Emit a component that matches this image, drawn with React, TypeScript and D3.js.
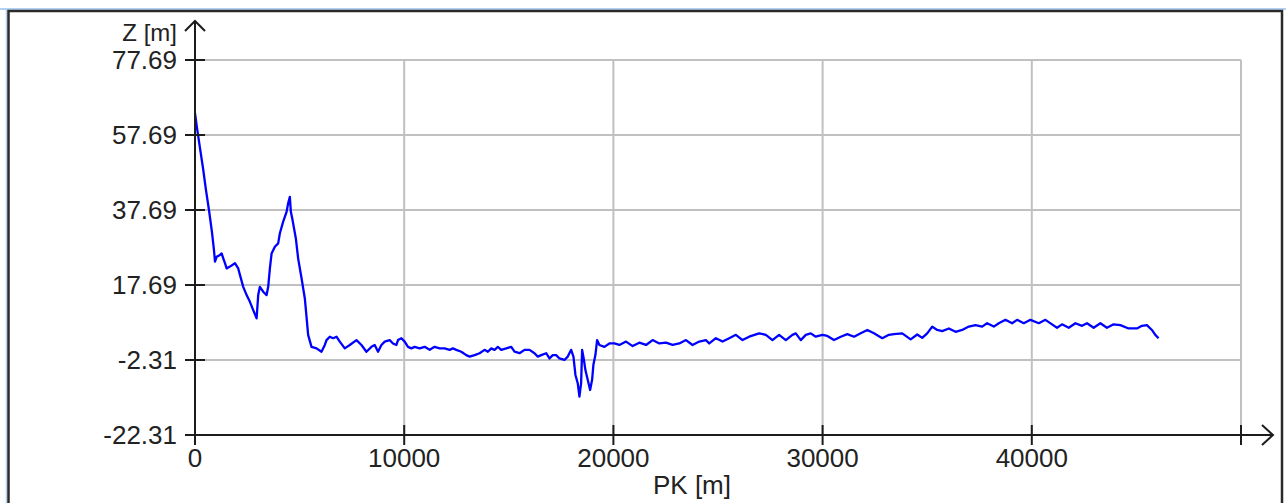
import React from "react";
import * as d3 from "d3";

// profile: chainage PK [m] and elevation Z [m]
const pk = [
  0, 95, 239, 382, 525, 668, 811, 907, 955, 1036, 1193, 1274, 1351, 1432, 1513, 1671, 1909, 2067, 2148, 2305,
  2468, 2625, 2783, 2945, 3021, 3102, 3260, 3422, 3499, 3580, 3661, 3818, 3976, 4057, 4215, 4377, 4453, 4534,
  4582, 4663, 4821, 4930, 5093, 5250, 5331, 5408, 5570, 5809, 6047, 6205, 6286, 6444, 6601, 6763, 6921, 7160,
  7398, 7718, 7957, 8195, 8434, 8591, 8749, 8911, 9069, 9307, 9465, 9627, 9704, 9866, 10023, 10181, 10343,
  10501, 10739, 10978, 11217, 11455, 11694, 11933, 12171, 12329, 12491, 12730, 12968, 13126, 13364, 13603,
  13842, 13999, 14162, 14319, 14477, 14639, 14877, 15116, 15274, 15512, 15751, 15990, 16228, 16386, 16548,
  16787, 16944, 17102, 17264, 17421, 17660, 17818, 17980, 18090, 18185, 18295, 18376, 18457, 18505, 18581,
  18662, 18772, 18887, 18982, 19044, 19140, 19221, 19331, 19569, 19808, 20047, 20285, 20605, 20920, 21240,
  21560, 21875, 22194, 22514, 22829, 23149, 23469, 23784, 24104, 24424, 24581, 24901, 25216, 25536, 25855,
  26171, 26490, 26967, 27287, 27602, 27922, 28242, 28557, 28719, 28958, 29196, 29435, 29674, 29989, 30227,
  30547, 30867, 31182, 31502, 31822, 32137, 32456, 32853, 33172, 33411, 33807, 34208, 34523, 34762, 35000,
  35239, 35478, 35716, 36036, 36356, 36671, 36991, 37310, 37625, 37864, 38184, 38423, 38742, 39057, 39296,
  39616, 39936, 40332, 40652, 40967, 41206, 41444, 41764, 42084, 42399, 42638, 42957, 43277, 43592, 43912,
  44232, 44628, 45025, 45264, 45502, 45741, 45903, 46060,
];
const z = [
  63.5, 59.6, 54.2, 48.9, 43.0, 37.7, 31.8, 27.0, 23.9, 25.2, 25.7, 26.1, 24.8, 23.5, 22.1, 22.6, 23.5, 22.1,
  20.4, 17.2, 15.0, 13.2, 11.0, 8.8, 15.0, 17.2, 15.9, 15.0, 17.2, 22.1, 26.1, 27.9, 28.8, 31.5, 34.6, 37.2,
  39.5, 41.2, 37.2, 35.0, 30.1, 24.8, 19.5, 14.1, 9.2, 4.4, 1.2, 0.8, -0.1, 1.7, 3.0, 3.9, 3.5, 3.9, 2.6, 0.8,
  1.7, 3.0, 1.7, -0.1, 1.2, 1.7, -0.1, 1.7, 2.6, 3.0, 2.1, 1.7, 3.0, 3.5, 2.6, 1.2, 0.8, 1.2, 0.8, 1.2, 0.4,
  1.2, 0.8, 0.8, 0.4, 0.8, 0.4, -0.1, -1.0, -1.4, -1.0, -0.5, 0.4, -0.1, 0.8, 0.4, 1.2, 0.4, 0.8, 1.2, -0.1,
  -0.5, 0.4, 0.4, -0.5, -1.4, -1.0, -0.5, -1.9, -1.0, -1.0, -1.9, -2.3, -1.4, 0.4, -1.4, -6.3, -8.5, -12.1,
  -8.5, 0.4, -1.9, -5.0, -7.6, -10.3, -7.6, -3.6, -1.0, 3.0, 1.7, 1.2, 2.1, 2.1, 1.7, 2.6, 1.4, 2.3, 1.7, 3.0,
  2.1, 2.3, 1.7, 2.1, 3.0, 1.7, 2.6, 3.0, 2.1, 3.5, 2.6, 3.5, 4.4, 3.0, 3.9, 4.8, 4.4, 3.0, 4.4, 3.0, 4.4, 4.8,
  3.0, 4.4, 4.8, 3.9, 4.4, 4.1, 3.0, 3.9, 4.6, 3.9, 4.8, 5.7, 4.8, 3.5, 4.4, 4.6, 4.8, 3.2, 4.5, 3.6, 4.8, 6.6,
  5.7, 5.4, 6.1, 5.2, 5.7, 6.6, 7.0, 6.6, 7.5, 6.6, 7.5, 8.4, 7.5, 8.4, 7.5, 8.4, 7.5, 8.4, 7.2, 6.3, 7.2, 6.3,
  7.5, 6.8, 7.5, 6.3, 7.5, 6.3, 7.2, 7.0, 6.1, 6.1, 6.8, 7.0, 5.7, 4.4, 3.5,
];

const yTicks = [-22.31, -2.31, 17.69, 37.69, 57.69, 77.69];
const yTickLabels = ["-22.31", "-2.31", "17.69", "37.69", "57.69", "77.69"];
const xTicks = [0, 10000, 20000, 30000, 40000, 50000];
const xTickLabels = ["0", "10000", "20000", "30000", "40000", ""];

const W = 1286;
const H = 503;
const font = "'Liberation Sans', Arial, sans-serif";
const axisColor = "#1c1c1c";
const gridColor = "#c0c0c0";

export default function App() {
  const x = d3.scaleLinear().domain([0, 50000]).range([195, 1241]);
  const y = d3.scaleLinear().domain([-22.31, 77.69]).range([435, 60]);

  const pts = pk.map((p, i) => [p, z[i]] as [number, number]);
  const path = d3
    .line<[number, number]>()
    .x((d) => x(d[0]))
    .y((d) => y(d[1]))(pts);

  const x0 = x(0);
  const y0 = y(-22.31);
  const xEnd = 1273;
  const yTop = 21;

  return (
    <svg
      width={W}
      height={H}
      style={{ position: "absolute", left: 0, top: 0, background: "#fff" }}
    >
      {/* window frame */}
      <line x1={0} x2={W} y1={9} y2={9} stroke="#b3d1f2" strokeWidth={2} />
      <line x1={6.5} x2={6.5} y1={10} y2={H} stroke="#b3d1f2" strokeWidth={1.5} />
      <rect x={8.5} y={11} width={1273.5} height={H} fill="none" stroke="#2a2a2a" strokeWidth={2.5} />

      {/* grid */}
      {yTicks.slice(1).map((t) => (
        <line key={"gy" + t} x1={x0} x2={x(50000)} y1={y(t)} y2={y(t)} stroke={gridColor} strokeWidth={2} />
      ))}
      {xTicks.slice(1).map((t) => (
        <line key={"gx" + t} x1={x(t)} x2={x(t)} y1={y(77.69)} y2={y0} stroke={gridColor} strokeWidth={2} />
      ))}

      {/* profile */}
      <path d={path ?? ""} fill="none" stroke="#0000ff" strokeWidth={2.3} strokeLinejoin="round" />

      {/* axes */}
      <line x1={x0} x2={xEnd} y1={y0} y2={y0} stroke={axisColor} strokeWidth={2} />
      <polyline
        points={`${xEnd - 11},${y0 - 10} ${xEnd},${y0} ${xEnd - 11},${y0 + 10}`}
        fill="none"
        stroke={axisColor}
        strokeWidth={2}
      />
      <line x1={x0} x2={x0} y1={y0 + 10} y2={yTop} stroke={axisColor} strokeWidth={2} />
      <polyline
        points={`${x0 - 10},${yTop + 10} ${x0},${yTop} ${x0 + 10},${yTop + 10}`}
        fill="none"
        stroke={axisColor}
        strokeWidth={2}
      />

      {yTicks.map((t, i) => (
        <g key={"yt" + t}>
          <line x1={x0 - 10} x2={x0 + 10} y1={y(t)} y2={y(t)} stroke={axisColor} strokeWidth={2} />
          <text
            x={177}
            y={y(t) + 9.3}
            textAnchor="end"
            fontFamily={font}
            fontSize={26}
            fill="#222"
          >
            {yTickLabels[i]}
          </text>
        </g>
      ))}
      {xTicks.map((t, i) => (
        <g key={"xt" + t}>
          <line x1={x(t)} x2={x(t)} y1={y0 - 10} y2={y0 + 10} stroke={axisColor} strokeWidth={2} />
          <text x={x(t)} y={467} textAnchor="middle" fontFamily={font} fontSize={26} fill="#222">
            {xTickLabels[i]}
          </text>
        </g>
      ))}

      <text x={177} y={41} textAnchor="end" fontFamily={font} fontSize={24} fill="#222">
        Z [m]
      </text>
      <text x={692} y={494} textAnchor="middle" fontFamily={font} fontSize={26} fill="#222">
        PK [m]
      </text>
    </svg>
  );
}
